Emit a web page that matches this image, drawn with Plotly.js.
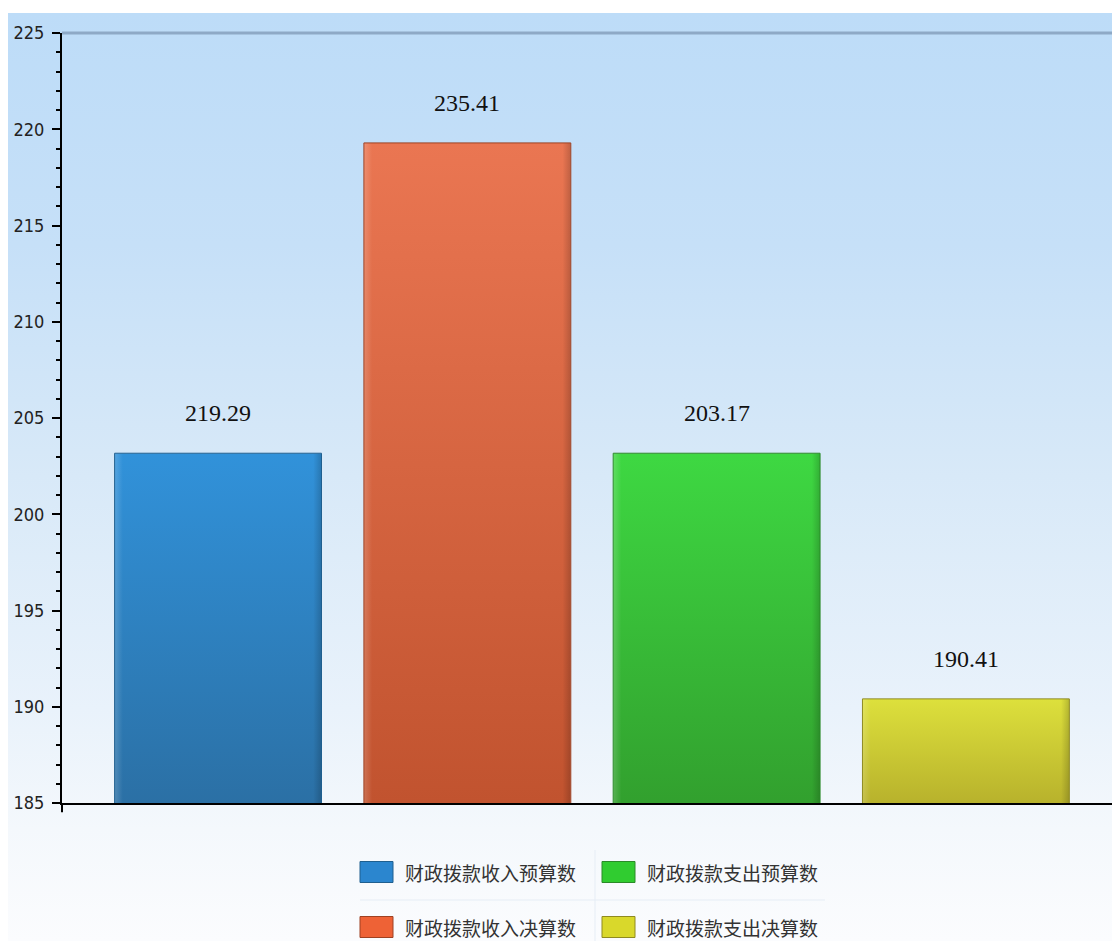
<!DOCTYPE html>
<html>
<head>
<meta charset="utf-8">
<script src="https://cdn.plot.ly/plotly-3.0.1.min.js"></script>
<style>
  html, body { margin:0; padding:0; background:#ffffff; }
  #bg { position:absolute; left:8px; top:13px; width:1104px; height:928px;
        background: linear-gradient(to bottom, #bddcf8 0%, #c6e0f8 25%, #d8e9f8 50%, #e9f2fb 75%, #f4f8fc 88%, #fbfcfe 100%); }
  #chart { position:absolute; left:0; top:0; width:1112px; height:941px; }
</style>
</head>
<body>
<div id="bg"></div>
<div id="chart"></div>
<script>
// ---- data ----
const seriesNames = ['财政拨款收入预算数', '财政拨款收入决算数', '财政拨款支出预算数', '财政拨款支出决算数'];
const barValues   = [203.17, 219.29, 203.17, 190.41];          // drawn bar heights as in the picture
const labelTexts  = ['219.29', '235.41', '203.17', '190.41'];  // value labels printed above bars
const yTickVals   = [185, 190, 195, 200, 205, 210, 215, 220, 225];

// ---- styles ----
const barTop    = ['#3192da', '#ea7652', '#3ed842', '#dde03c'];
const barBottom = ['#2b70a5', '#c1532f', '#32a02e', '#b8b22c'];
const barEdge   = ['#1f5f8f', '#9e4122', '#2a8a28', '#8f8a20'];
const swatch    = ['#2b86cf', '#ee6236', '#30cc30', '#d9d82b'];
const legendOrder = [0, 2, 1, 3]; // row-major: row1 = blue, green; row2 = orange, yellow
const BAR_W = 0.83, Y_MIN = 185, Y_MAX = 225;

const xIdx = seriesNames.map((_, i) => i);

const trace = {
  type: 'bar',
  x: xIdx,
  y: barValues,
  width: BAR_W,
  marker: { color: 'rgba(0,0,0,0)', line: { color: barEdge, width: 1 } },
  hoverinfo: 'skip',
  showlegend: false
};

function gradSvg(top, bottom) {
  const s = '<svg xmlns="http://www.w3.org/2000/svg" width="100" height="100" viewBox="0 0 100 100" preserveAspectRatio="none">' +
    '<defs><linearGradient id="g" x1="0" y1="0" x2="0" y2="1">' +
    '<stop offset="0" stop-color="' + top + '"/><stop offset="1" stop-color="' + bottom + '"/></linearGradient>' +
    '<linearGradient id="h" x1="0" y1="0" x2="1" y2="0">' +
    '<stop offset="0" stop-color="#ffffff" stop-opacity="0.18"/><stop offset="0.04" stop-color="#ffffff" stop-opacity="0"/>' +
    '<stop offset="0.96" stop-color="#000000" stop-opacity="0"/><stop offset="1" stop-color="#000000" stop-opacity="0.18"/></linearGradient></defs>' +
    '<rect x="0" y="0" width="100" height="100" fill="url(#g)"/>' +
    '<rect x="0" y="0" width="100" height="100" fill="url(#h)"/></svg>';
  return 'data:image/svg+xml;charset=utf-8,' + encodeURIComponent(s);
}

const images = xIdx.map(i => ({
  source: gradSvg(barTop[i], barBottom[i]),
  xref: 'x', yref: 'y', x: i - BAR_W / 2, y: barValues[i],
  sizex: BAR_W, sizey: barValues[i] - Y_MIN,
  xanchor: 'left', yanchor: 'top', sizing: 'stretch', layer: 'below'
}));

const annotations = xIdx.map(i => ({
  x: i, y: barValues[i], xref: 'x', yref: 'y',
  text: labelTexts[i], showarrow: false, yshift: 40,
  font: { family: 'Liberation Serif, Times New Roman, serif', size: 24, color: '#111' }
}));

const shapes = [
  { type:'line', xref:'paper', yref:'paper', x0:0, x1:1, y0:1, y1:1, layer:'above',
    line:{ color:'#8ea9c6', width:3 } },
  { type:'line', xref:'paper', yref:'paper', x0:0, x1:0, y0:0, y1:-0.012,
    line:{ color:'#000', width:2 } }
];

// manual legend (2 x 2)
const colX = [360, 602];
const rowY = [872, 927];
legendOrder.forEach((si, k) => {
  const c = k % 2, r = Math.floor(k / 2);
  const x0 = colX[c], yc = rowY[r];
  shapes.push({ type:'rect', xref:'paper', yref:'paper', layer:'above',
    x0: (x0 - 62) / 1050, x1: (x0 + 33 - 62) / 1050,
    y0: (803 - (yc + 10.5)) / 770, y1: (803 - (yc - 10.5)) / 770,
    fillcolor: swatch[si], line: { color: barEdge[si], width: 1 } });
  annotations.push({ xref:'paper', yref:'paper', showarrow:false,
    x: (x0 + 43 - 62) / 1050, y: (803 - yc) / 770, xanchor:'left', yanchor:'middle',
    text: seriesNames[si],
    font: { family: 'Noto Sans CJK SC, sans-serif', size: 19, color: '#333' } });
});
shapes.push({ type:'line', xref:'paper', yref:'paper',
  x0:(595-62)/1050, x1:(595-62)/1050, y0:(803-850)/770, y1:(803-941)/770,
  line:{ color:'#e6edf5', width:1 } });
shapes.push({ type:'line', xref:'paper', yref:'paper',
  x0:(360-62)/1050, x1:(825-62)/1050, y0:(803-900)/770, y1:(803-900)/770,
  line:{ color:'#e6edf5', width:1 } });

const layout = {
  width: 1112, height: 941,
  margin: { l: 62, r: 0, t: 33, b: 138 },
  paper_bgcolor: 'rgba(0,0,0,0)',
  plot_bgcolor: 'rgba(0,0,0,0)',
  showlegend: false,
  xaxis: {
    range: [-0.626, 3.586],
    showticklabels: false, ticks: '', showgrid: false, zeroline: false,
    showline: true, linecolor: '#000', linewidth: 2, fixedrange: true
  },
  yaxis: {
    range: [Y_MIN, Y_MAX], tickvals: yTickVals, ticktext: yTickVals.map(String),
    showgrid: false, zeroline: false, showline: true, linecolor: '#000', linewidth: 2,
    ticks: 'outside', ticklen: 8, tickwidth: 2, tickcolor: '#000',
    ticklabelstandoff: 4,
    minor: { dtick: 1, ticks: 'outside', ticklen: 4, tickwidth: 2, tickcolor: '#000', showgrid: false },
    tickfont: { family: 'DejaVu Sans Condensed, Liberation Sans Narrow, sans-serif', size: 18, color: '#222' },
    fixedrange: true
  },
  images: images,
  annotations: annotations,
  shapes: shapes
};

Plotly.newPlot('chart', [trace], layout, { staticPlot: true });
</script>
</body>
</html>
